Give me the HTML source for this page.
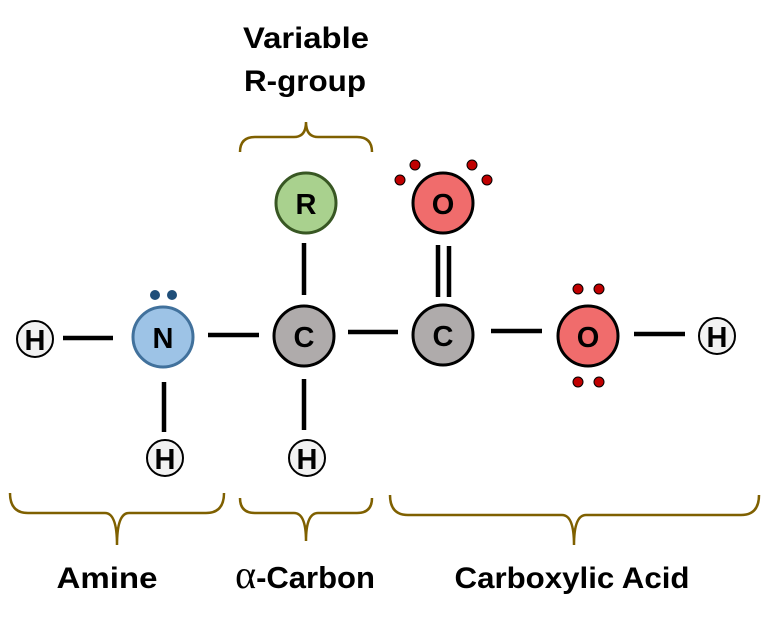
<!DOCTYPE html>
<html><head><meta charset="utf-8"><style>
html,body{margin:0;padding:0;background:#fff;}
svg{display:block;}
text{font-family:"Liberation Sans",sans-serif;font-weight:bold;}
</style></head><body>
<svg width="762" height="623" viewBox="0 0 762 623" xmlns="http://www.w3.org/2000/svg">
<g stroke="#000" stroke-width="4.5">
<line x1="63" y1="338" x2="113" y2="338"/>
<line x1="208" y1="335" x2="259" y2="335"/>
<line x1="348" y1="332" x2="398" y2="332"/>
<line x1="491" y1="331" x2="542" y2="331"/>
<line x1="634" y1="334" x2="685" y2="334"/>
<line x1="164" y1="382" x2="164" y2="432"/>
<line x1="304" y1="243" x2="304" y2="295"/>
<line x1="304" y1="379" x2="304" y2="430"/>
<line x1="438" y1="245" x2="438" y2="297"/>
<line x1="449" y1="246" x2="449" y2="297"/>
</g>
<g stroke="#7f6000" stroke-width="2.5" fill="none">
<path d="M240 152 Q240 137 255 137 L294 137 Q306 137 306 122 Q306 137 318 137 L357 137 Q372 137 372 152"/>
<path d="M10 493 Q10 513 28 513 L105 513 Q117 513 117 545 Q117 513 129 513 L206 513 Q224 513 224 493"/>
<path d="M240 498 Q240 513 255 513 L294 513 Q306 513 306 541 Q306 513 318 513 L357 513 Q372 513 372 498"/>
<path d="M390 495 Q390 515 408 515 L562 515 Q574 515 574 545 Q574 515 586 515 L741 515 Q759 515 759 495"/>
</g>
<g stroke-width="3">
<circle cx="35" cy="339" r="18" fill="#f2f2f2" stroke="#000" stroke-width="2"/>
<circle cx="165" cy="458" r="18" fill="#f2f2f2" stroke="#000" stroke-width="2"/>
<circle cx="307" cy="458" r="18" fill="#f2f2f2" stroke="#000" stroke-width="2"/>
<circle cx="717" cy="336" r="18" fill="#f2f2f2" stroke="#000" stroke-width="2"/>
<circle cx="163" cy="337" r="30" fill="#9dc3e6" stroke="#41719c"/>
<circle cx="304" cy="336" r="30" fill="#afabab" stroke="#000"/>
<circle cx="443" cy="335" r="30" fill="#afabab" stroke="#000"/>
<circle cx="306" cy="203" r="30" fill="#a9d18e" stroke="#385723"/>
<circle cx="443" cy="203" r="30" fill="#f06c6c" stroke="#000"/>
<circle cx="588" cy="336" r="30" fill="#f06c6c" stroke="#000"/>
</g>
<g fill="#1f4e79"><circle cx="155" cy="295" r="5"/><circle cx="172" cy="295" r="5"/></g>
<g fill="#c00000" stroke="#000" stroke-width="1">
<circle cx="400" cy="180" r="5"/><circle cx="415" cy="165" r="5"/><circle cx="472" cy="165" r="5"/><circle cx="487" cy="180" r="5"/>
<circle cx="578" cy="289" r="5"/><circle cx="599" cy="289" r="5"/><circle cx="578" cy="382" r="5"/><circle cx="599" cy="382" r="5"/>
</g>
<g font-size="29" text-anchor="middle" fill="#000">
<text x="35" y="350">H</text>
<text x="165" y="469">H</text>
<text x="307" y="469">H</text>
<text x="717" y="347">H</text>
<text x="163" y="348">N</text>
<text x="304" y="347">C</text>
<text x="443" y="346">C</text>
<text x="306" y="214">R</text>
<text x="443" y="214">O</text>
<text x="588" y="347">O</text>
</g>
<g font-size="30" text-anchor="middle" fill="#000">
<text x="306" y="48" textLength="126" lengthAdjust="spacingAndGlyphs">Variable</text>
<text x="305" y="91" textLength="122" lengthAdjust="spacingAndGlyphs">R-group</text>
<text x="107" y="588" textLength="101" lengthAdjust="spacingAndGlyphs">Amine</text>
<text x="305" y="588"><tspan font-family="Liberation Serif,serif" font-weight="normal" font-size="40">α</tspan><tspan font-size="31">-Carbon</tspan></text>
<text x="572" y="588" textLength="235" lengthAdjust="spacingAndGlyphs">Carboxylic Acid</text>
</g>
</svg>
</body></html>
